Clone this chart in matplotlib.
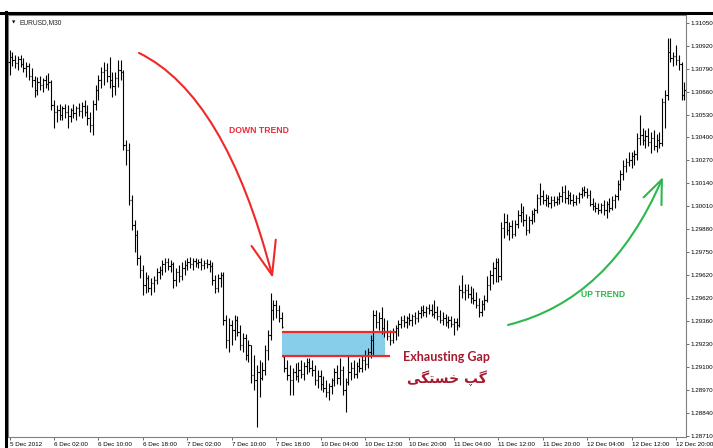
import numpy as np
import matplotlib
matplotlib.use("Agg")
import matplotlib.pyplot as plt
from matplotlib.path import Path
from matplotlib.patches import FancyArrowPatch, Rectangle, ArrowStyle
from matplotlib.lines import Line2D

plt.rcParams['font.family'] = ['Liberation Sans', 'DejaVu Sans']

# EURUSD M30 bars (one entry per bar)
bar_open = [
    1.30828, 1.30856, 1.30839, 1.30822, 1.30845, 1.30816, 1.30794, 1.30805, 1.30748, 1.30726,
    1.30669, 1.30714, 1.30697, 1.30726, 1.30703, 1.30714, 1.30584, 1.30544, 1.30556, 1.30527,
    1.30567, 1.30544, 1.30522, 1.30556, 1.30539, 1.30567, 1.30550, 1.30578, 1.30544, 1.30510,
    1.30471, 1.30590, 1.30669, 1.30726, 1.30771, 1.30782, 1.30748, 1.30726, 1.30692, 1.30737,
    1.30782, 1.30771, 1.30357, 1.30329, 1.30046, 1.29904, 1.29847, 1.29717, 1.29649, 1.29564,
    1.29604, 1.29547, 1.29576, 1.29593, 1.29638, 1.29649, 1.29683, 1.29695, 1.29672, 1.29683,
    1.29593, 1.29638, 1.29615, 1.29661, 1.29678, 1.29695, 1.29683, 1.29700, 1.29689, 1.29695,
    1.29678, 1.29689, 1.29683, 1.29672, 1.29593, 1.29547, 1.29604, 1.29621, 1.29366, 1.29253,
    1.29338, 1.29309, 1.29366, 1.29298, 1.29224, 1.29264, 1.29168, 1.29224, 1.29054, 1.29026,
    1.29071, 1.29037, 1.29083, 1.29196, 1.29281, 1.29423, 1.29451, 1.29423, 1.29377, 1.29156,
    1.29094, 1.29054, 1.29026, 1.29071, 1.29049, 1.29083, 1.29060, 1.29105, 1.29128, 1.29094,
    1.29083, 1.29026, 1.29049, 1.29003, 1.28981, 1.28958, 1.28992, 1.29026, 1.29071, 1.29037,
    1.29083, 1.28969, 1.29015, 1.29071, 1.29094, 1.29060, 1.29105, 1.29094, 1.29139, 1.29117,
    1.29185, 1.29253, 1.29394, 1.29355, 1.29377, 1.29321, 1.29298, 1.29275, 1.29253, 1.29298,
    1.29321, 1.29343, 1.29366, 1.29355, 1.29377, 1.29366, 1.29389, 1.29377, 1.29406, 1.29423,
    1.29411, 1.29434, 1.29423, 1.29400, 1.29411, 1.29389, 1.29366, 1.29377, 1.29355, 1.29366,
    1.29343, 1.29355, 1.29338, 1.29536, 1.29525, 1.29536, 1.29513, 1.29491, 1.29479, 1.29451,
    1.29411, 1.29457, 1.29479, 1.29564, 1.29621, 1.29661, 1.29695, 1.29615, 1.29887, 1.29921,
    1.29876, 1.29899, 1.29853, 1.29910, 1.29961, 1.29978, 1.29933, 1.29876, 1.29933, 1.29966,
    1.29989, 1.30057, 1.30069, 1.30046, 1.30057, 1.30029, 1.30046, 1.30035, 1.30052, 1.30069,
    1.30091, 1.30057, 1.30074, 1.30046, 1.30035, 1.30057, 1.30080, 1.30102, 1.30091, 1.30074,
    1.30023, 1.30012, 1.30000, 1.29989, 1.30018, 1.29989, 1.30023, 1.30000, 1.30046, 1.30069,
    1.30136, 1.30193, 1.30238, 1.30261, 1.30272, 1.30295, 1.30306, 1.30397, 1.30414, 1.30386,
    1.30408, 1.30374, 1.30397, 1.30352, 1.30386, 1.30369, 1.30601, 1.30641, 1.30884, 1.30850,
    1.30862, 1.30839, 1.30816, 1.30641,
]
bar_high = [
    1.30896, 1.30884, 1.30867, 1.30862, 1.30867, 1.30850, 1.30828, 1.30822, 1.30794, 1.30748,
    1.30743, 1.30748, 1.30737, 1.30754, 1.30765, 1.30726, 1.30612, 1.30584, 1.30590, 1.30578,
    1.30590, 1.30584, 1.30567, 1.30590, 1.30578, 1.30595, 1.30601, 1.30612, 1.30584, 1.30544,
    1.30612, 1.30697, 1.30754, 1.30799, 1.30828, 1.30822, 1.30856, 1.30771, 1.30771, 1.30839,
    1.30839, 1.30782, 1.30386, 1.30369, 1.30074, 1.29933, 1.29876, 1.29734, 1.29678, 1.29638,
    1.29621, 1.29604, 1.29615, 1.29661, 1.29672, 1.29706, 1.29717, 1.29717, 1.29706, 1.29695,
    1.29661, 1.29678, 1.29695, 1.29706, 1.29717, 1.29723, 1.29717, 1.29717, 1.29711, 1.29717,
    1.29706, 1.29711, 1.29706, 1.29695, 1.29621, 1.29627, 1.29638, 1.29638, 1.29394, 1.29377,
    1.29366, 1.29394, 1.29389, 1.29338, 1.29292, 1.29287, 1.29253, 1.29224, 1.29168, 1.29111,
    1.29139, 1.29128, 1.29224, 1.29309, 1.29519, 1.29479, 1.29479, 1.29451, 1.29411, 1.29168,
    1.29139, 1.29111, 1.29094, 1.29122, 1.29128, 1.29139, 1.29128, 1.29151, 1.29151, 1.29139,
    1.29111, 1.29083, 1.29083, 1.29049, 1.29026, 1.29009, 1.29037, 1.29094, 1.29111, 1.29151,
    1.29105, 1.29037, 1.29168, 1.29128, 1.29139, 1.29128, 1.29151, 1.29168, 1.29196, 1.29207,
    1.29281, 1.29423, 1.29423, 1.29411, 1.29439, 1.29377, 1.29366, 1.29309, 1.29321, 1.29338,
    1.29366, 1.29389, 1.29394, 1.29389, 1.29406, 1.29400, 1.29411, 1.29423, 1.29445, 1.29451,
    1.29445, 1.29457, 1.29457, 1.29479, 1.29445, 1.29423, 1.29411, 1.29400, 1.29389, 1.29389,
    1.29377, 1.29377, 1.29564, 1.29621, 1.29570, 1.29570, 1.29559, 1.29547, 1.29525, 1.29491,
    1.29479, 1.29508, 1.29615, 1.29649, 1.29695, 1.29717, 1.29717, 1.29921, 1.29972, 1.29966,
    1.29921, 1.29933, 1.29933, 1.29989, 1.30029, 1.30012, 1.29966, 1.29955, 1.29989, 1.30000,
    1.30080, 1.30142, 1.30102, 1.30080, 1.30074, 1.30069, 1.30069, 1.30069, 1.30091, 1.30125,
    1.30131, 1.30102, 1.30091, 1.30080, 1.30074, 1.30091, 1.30119, 1.30125, 1.30114, 1.30102,
    1.30057, 1.30035, 1.30029, 1.30029, 1.30046, 1.30040, 1.30057, 1.30069, 1.30080, 1.30159,
    1.30216, 1.30272, 1.30284, 1.30318, 1.30318, 1.30329, 1.30425, 1.30527, 1.30454, 1.30442,
    1.30454, 1.30431, 1.30442, 1.30420, 1.30431, 1.30624, 1.30669, 1.30964, 1.30964, 1.30884,
    1.30924, 1.30867, 1.30828, 1.30714,
]
bar_low = [
    1.30754, 1.30805, 1.30794, 1.30782, 1.30799, 1.30771, 1.30743, 1.30726, 1.30686, 1.30629,
    1.30641, 1.30669, 1.30658, 1.30680, 1.30669, 1.30556, 1.30454, 1.30488, 1.30499, 1.30499,
    1.30510, 1.30454, 1.30488, 1.30510, 1.30499, 1.30522, 1.30510, 1.30522, 1.30471, 1.30431,
    1.30414, 1.30556, 1.30612, 1.30680, 1.30697, 1.30714, 1.30680, 1.30629, 1.30641, 1.30686,
    1.30726, 1.30329, 1.30244, 1.30018, 1.29876, 1.29751, 1.29678, 1.29604, 1.29508, 1.29519,
    1.29525, 1.29508, 1.29525, 1.29570, 1.29598, 1.29621, 1.29638, 1.29649, 1.29638, 1.29547,
    1.29559, 1.29581, 1.29593, 1.29621, 1.29649, 1.29661, 1.29649, 1.29666, 1.29661, 1.29649,
    1.29655, 1.29661, 1.29638, 1.29564, 1.29519, 1.29525, 1.29553, 1.29338, 1.29207, 1.29185,
    1.29224, 1.29253, 1.29275, 1.29196, 1.29185, 1.29139, 1.29128, 1.29009, 1.28969, 1.28760,
    1.28930, 1.29026, 1.29054, 1.29139, 1.29253, 1.29366, 1.29377, 1.29355, 1.29321, 1.29071,
    1.29026, 1.28941, 1.28941, 1.29026, 1.29015, 1.29037, 1.29026, 1.29060, 1.29071, 1.29049,
    1.28998, 1.28981, 1.28969, 1.28958, 1.28930, 1.28913, 1.28947, 1.28992, 1.29003, 1.28998,
    1.28941, 1.28845, 1.28998, 1.29026, 1.29037, 1.29037, 1.29071, 1.29071, 1.29083, 1.29094,
    1.29151, 1.29168, 1.29321, 1.29309, 1.29287, 1.29270, 1.29253, 1.29224, 1.29236, 1.29253,
    1.29275, 1.29321, 1.29326, 1.29321, 1.29338, 1.29332, 1.29343, 1.29355, 1.29377, 1.29389,
    1.29383, 1.29400, 1.29389, 1.29377, 1.29366, 1.29349, 1.29338, 1.29332, 1.29321, 1.29326,
    1.29281, 1.29309, 1.29326, 1.29491, 1.29479, 1.29491, 1.29462, 1.29457, 1.29434, 1.29383,
    1.29389, 1.29423, 1.29468, 1.29536, 1.29570, 1.29581, 1.29581, 1.29593, 1.29830, 1.29847,
    1.29819, 1.29830, 1.29842, 1.29887, 1.29921, 1.29899, 1.29847, 1.29859, 1.29910, 1.29921,
    1.29972, 1.30018, 1.30023, 1.30012, 1.30006, 1.30000, 1.30012, 1.30018, 1.30023, 1.30035,
    1.30029, 1.30023, 1.30023, 1.30012, 1.30018, 1.30029, 1.30057, 1.30069, 1.30057, 1.30012,
    1.29989, 1.29978, 1.29966, 1.29972, 1.29961, 1.29944, 1.29978, 1.29989, 1.30000, 1.30046,
    1.30102, 1.30159, 1.30204, 1.30238, 1.30227, 1.30244, 1.30272, 1.30357, 1.30357, 1.30340,
    1.30352, 1.30312, 1.30329, 1.30318, 1.30340, 1.30352, 1.30454, 1.30612, 1.30828, 1.30805,
    1.30811, 1.30782, 1.30612, 1.30612,
]
bar_close = [
    1.30856, 1.30839, 1.30822, 1.30845, 1.30816, 1.30794, 1.30805, 1.30748, 1.30726, 1.30669,
    1.30714, 1.30697, 1.30726, 1.30703, 1.30714, 1.30584, 1.30544, 1.30556, 1.30527, 1.30567,
    1.30544, 1.30522, 1.30556, 1.30539, 1.30567, 1.30550, 1.30578, 1.30544, 1.30510, 1.30471,
    1.30590, 1.30669, 1.30726, 1.30771, 1.30782, 1.30748, 1.30726, 1.30692, 1.30737, 1.30782,
    1.30771, 1.30357, 1.30329, 1.30046, 1.29904, 1.29847, 1.29717, 1.29649, 1.29564, 1.29604,
    1.29547, 1.29576, 1.29593, 1.29638, 1.29649, 1.29683, 1.29695, 1.29672, 1.29683, 1.29593,
    1.29638, 1.29615, 1.29661, 1.29678, 1.29695, 1.29683, 1.29700, 1.29689, 1.29695, 1.29678,
    1.29689, 1.29683, 1.29672, 1.29593, 1.29547, 1.29604, 1.29621, 1.29366, 1.29253, 1.29338,
    1.29309, 1.29366, 1.29298, 1.29224, 1.29264, 1.29168, 1.29224, 1.29054, 1.29026, 1.29071,
    1.29037, 1.29083, 1.29196, 1.29281, 1.29423, 1.29451, 1.29423, 1.29377, 1.29326, 1.29094,
    1.29054, 1.29026, 1.29071, 1.29049, 1.29083, 1.29060, 1.29105, 1.29128, 1.29094, 1.29083,
    1.29026, 1.29049, 1.29003, 1.28981, 1.28958, 1.28992, 1.29026, 1.29071, 1.29037, 1.29083,
    1.28969, 1.29015, 1.29071, 1.29094, 1.29060, 1.29105, 1.29094, 1.29139, 1.29117, 1.29185,
    1.29253, 1.29394, 1.29355, 1.29377, 1.29321, 1.29298, 1.29275, 1.29253, 1.29298, 1.29321,
    1.29343, 1.29366, 1.29355, 1.29377, 1.29366, 1.29389, 1.29377, 1.29406, 1.29423, 1.29411,
    1.29434, 1.29423, 1.29400, 1.29411, 1.29389, 1.29366, 1.29377, 1.29355, 1.29366, 1.29343,
    1.29355, 1.29338, 1.29536, 1.29525, 1.29536, 1.29513, 1.29491, 1.29479, 1.29451, 1.29411,
    1.29457, 1.29479, 1.29564, 1.29621, 1.29661, 1.29695, 1.29615, 1.29887, 1.29921, 1.29876,
    1.29899, 1.29853, 1.29910, 1.29961, 1.29978, 1.29933, 1.29876, 1.29933, 1.29966, 1.29989,
    1.30057, 1.30069, 1.30046, 1.30057, 1.30029, 1.30046, 1.30035, 1.30052, 1.30069, 1.30091,
    1.30057, 1.30074, 1.30046, 1.30035, 1.30057, 1.30080, 1.30102, 1.30091, 1.30074, 1.30023,
    1.30012, 1.30000, 1.29989, 1.30018, 1.29989, 1.30023, 1.30000, 1.30046, 1.30069, 1.30136,
    1.30193, 1.30238, 1.30261, 1.30272, 1.30295, 1.30306, 1.30397, 1.30414, 1.30386, 1.30408,
    1.30374, 1.30397, 1.30352, 1.30386, 1.30369, 1.30601, 1.30641, 1.30884, 1.30850, 1.30862,
    1.30839, 1.30816, 1.30641, 1.30669,
]

price_ticks = [1.31050, 1.30920, 1.30790, 1.30660, 1.30530, 1.30400, 1.30270, 1.30140,
               1.30010, 1.29880, 1.29750, 1.29620, 1.29490, 1.29360, 1.29230, 1.29100,
               1.28970, 1.28840, 1.28710]
price_labels = ["1.31050", "1.30920", "1.30790", "1.30660", "1.30530", "1.30400", "1.30270",
                "1.30140", "1.30010", "1.29880", "1.29750", "1.29620", "1.29620", "1.29360",
                "1.29230", "1.29100", "1.28970", "1.28840", "1.28710"]
time_labels = ["5 Dec 2012", "6 Dec 02:00", "6 Dec 10:00", "6 Dec 18:00", "7 Dec 02:00",
               "7 Dec 10:00", "7 Dec 18:00", "10 Dec 04:00", "10 Dec 12:00", "10 Dec 20:00",
               "11 Dec 04:00", "11 Dec 12:00", "11 Dec 20:00", "12 Dec 04:00", "12 Dec 12:00",
               "12 Dec 20:00"]
bars_per_label = 16

# annotation anchors (bar index, price)
gap_top, gap_bottom = 1.29298, 1.29162
down_arrow = [(46.6, 1.30879), (77.6, 1.30641), (94.8, 1.29604)]
up_arrow = [(179.5, 1.29338), (216.2, 1.29479), (235.3, 1.30176)]

fig = plt.figure(figsize=(7.13, 4.48), dpi=100)
ax = fig.add_axes([8 / 713, 11 / 448, 678 / 713, 422 / 448])

idx = np.arange(len(bar_close))
ax.vlines(idx, bar_low, bar_high, colors="black", linewidth=0.8, zorder=3)
ax.hlines(bar_open, idx - 0.45, idx, colors="black", linewidth=0.8, zorder=3)
ax.hlines(bar_close, idx, idx + 0.45, colors="black", linewidth=0.8, zorder=3)

ax.set_xlim(-0.58, 243.6)
ax.set_ylim(1.28703, 1.31094)

# exhausting gap box
ax.add_patch(Rectangle((98.1, gap_bottom), 37.1, gap_top - gap_bottom,
                       facecolor="#87ceeb", edgecolor="none", zorder=1))
ax.hlines(gap_top, 98.1, 139.1, colors="#f02828", linewidth=1.6, zorder=4)
ax.hlines(gap_bottom, 98.1, 137.0, colors="#f02828", linewidth=1.6, zorder=4)
ax.text(157.5, 1.29156, "Exhausting Gap", color="#a51a2e", fontsize=9, fontweight="bold",
        family=["Lato", "DejaVu Sans"], ha="center", va="center")
# Persian "گپ خستگی" in visual order with joined letter forms
ax.text(157.5, 1.29037, "\uFBFD\uFB95\uFE98\uFEB4\uFEA7 \uFB57\uFB94", color="#a51a2e",
        fontsize=10, fontweight="bold", family=["DejaVu Sans"], ha="center", va="center")

# trend arrows
codes = [Path.MOVETO, Path.CURVE3, Path.CURVE3]
ax.add_patch(FancyArrowPatch(path=Path(down_arrow, codes), color="#f02828", linewidth=1.5,
                             arrowstyle=ArrowStyle("->", head_length=24, head_width=9),
                             mutation_scale=1, zorder=5))
ax.add_patch(FancyArrowPatch(path=Path(up_arrow, codes), color="#2cb84c", linewidth=1.5,
                             arrowstyle=ArrowStyle("->", head_length=17, head_width=7),
                             mutation_scale=1, zorder=5))
ax.text(89.8, 1.30437, "DOWN TREND", color="#ee2b3a", fontsize=6.2, fontweight="bold",
        ha="center", va="center")
ax.text(213.7, 1.29508, "UP TREND", color="#2cb84c", fontsize=6.2, fontweight="bold",
        ha="center", va="center")

# axes in MetaTrader style
ax.yaxis.tick_right()
ax.set_yticks(price_ticks, price_labels)
ax.set_xticks(np.arange(len(time_labels)) * bars_per_label, time_labels, ha="left")
ax.tick_params(axis="both", direction="out", length=2.5, width=0.6, color="#555555",
               labelsize=4.5, pad=1.0)
for s in ax.spines.values():
    s.set_color("#808080")
    s.set_linewidth(0.8)

ax.text(0.006, 0.982, "\u25BC", transform=ax.transAxes, fontsize=3.2, va="center",
        family=["DejaVu Sans"])
ax.text(0.017, 0.982, "EURUSD,M30", transform=ax.transAxes, fontsize=4.8, va="center",
        color="#222222")

# screenshot window frame (top and left)
fig.add_artist(Line2D([0, 1], [1 - 13 / 448] * 2, transform=fig.transFigure,
                      color="black", linewidth=2.2))
fig.add_artist(Line2D([5.5 / 713] * 2, [0, 1 - 12 / 448], transform=fig.transFigure,
                      color="black", linewidth=2.2))

fig.savefig("out.png", dpi=100)
